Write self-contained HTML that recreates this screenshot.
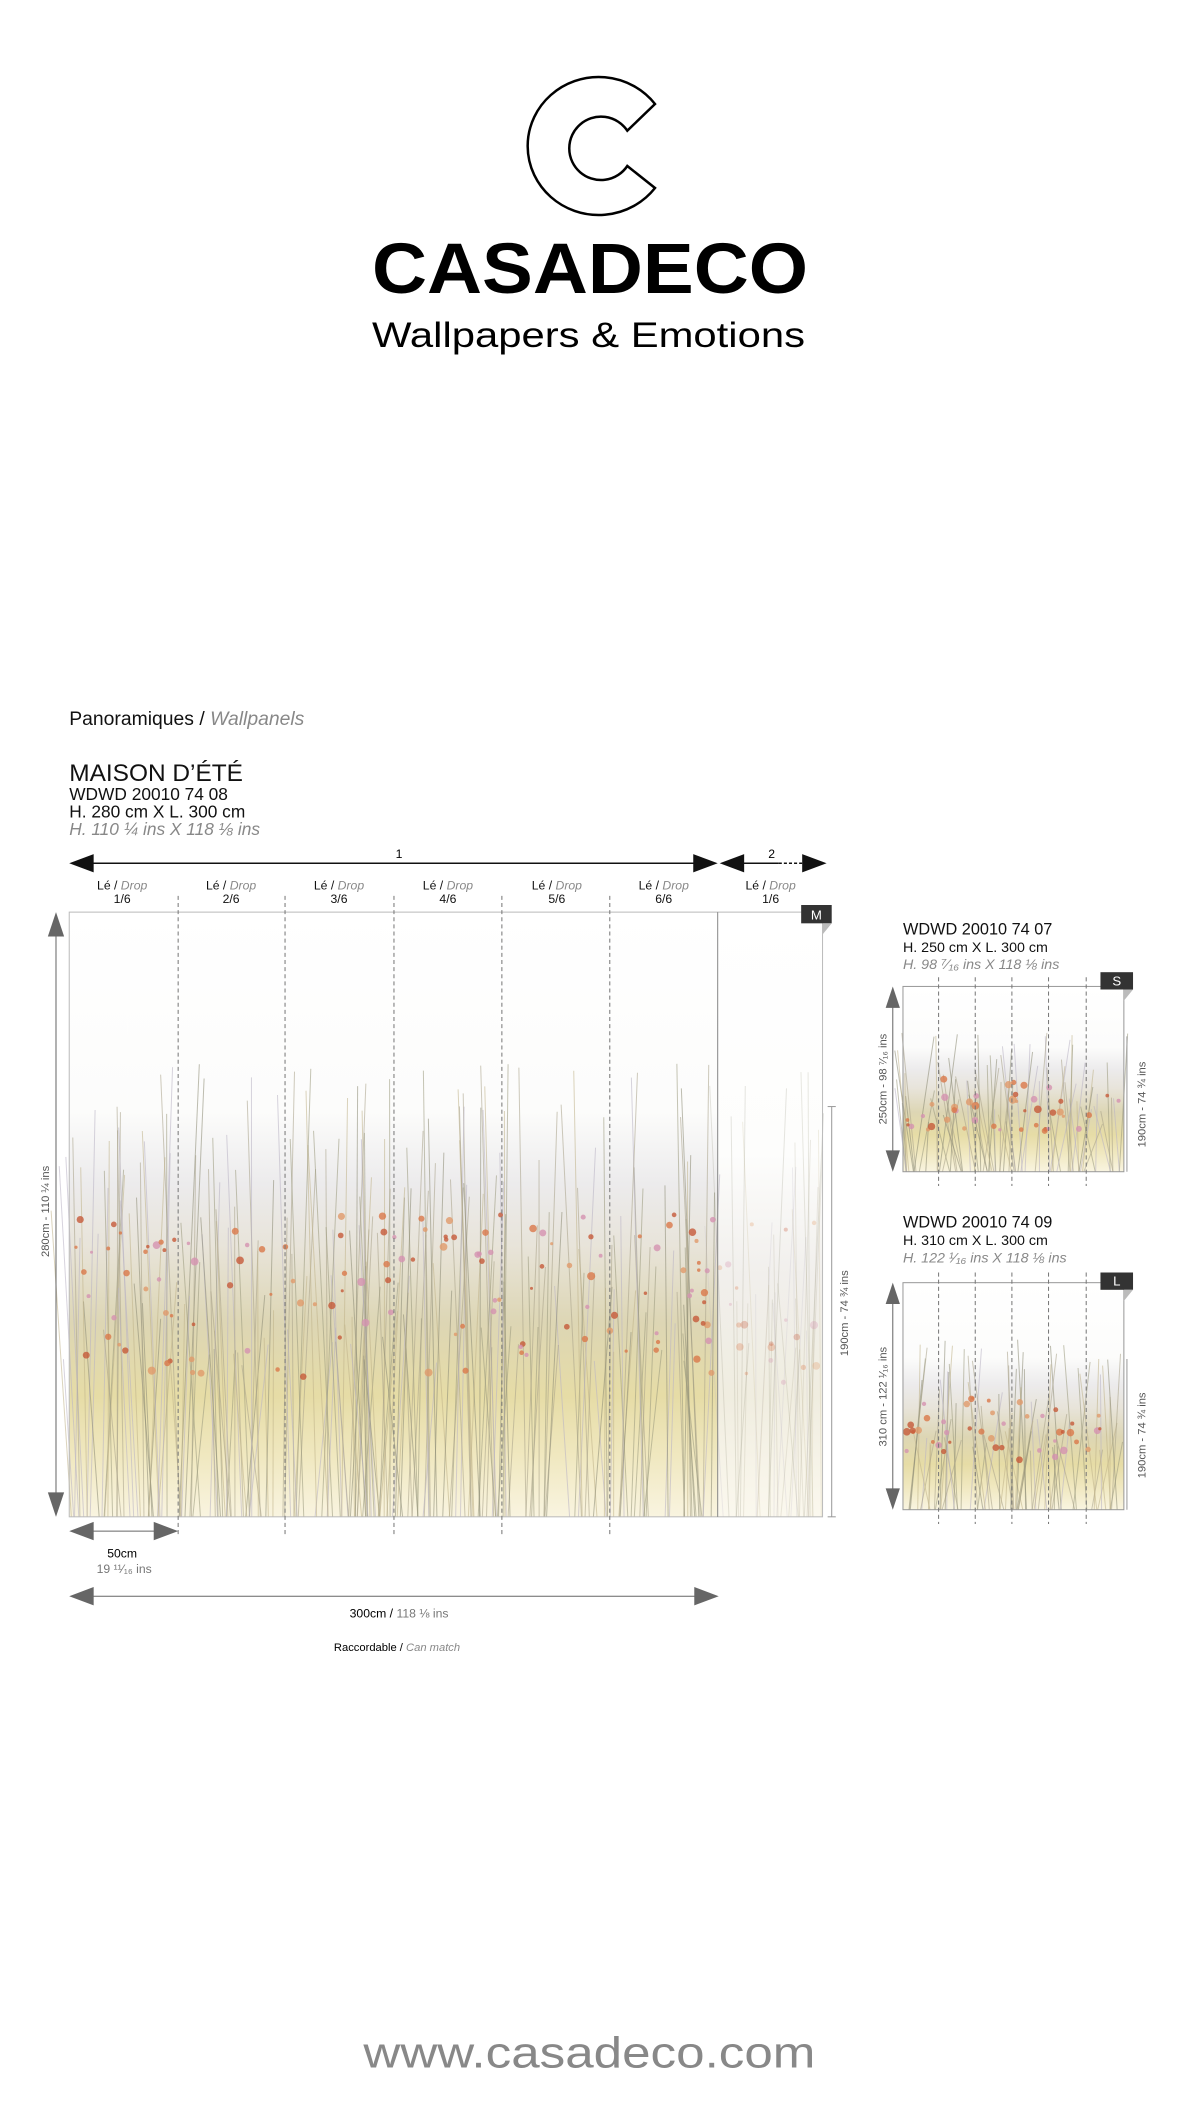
<!DOCTYPE html>
<html><head><meta charset="utf-8">
<style>
body{margin:0;background:#fff;}
#p{position:relative;width:1181px;height:2126px;overflow:hidden;font-family:"Liberation Sans",sans-serif;color:#111;}
#s{position:absolute;left:0;top:0;width:1181px;height:2126px;transform:scale(1.018);transform-origin:0 0;}
.a{position:absolute;white-space:nowrap;}
.g{color:#888;font-style:italic;}
.lbl{position:absolute;font-size:12px;text-align:center;width:80px;line-height:13px;}
</style></head><body><div id="p">
<svg class="a" style="left:0;top:0" width="1181" height="400">
<path d="M655,104 L627.3,130.7 A31.7,31.7 0 1 0 627.3,166 L655,188 A71,69 0 1 1 655,104 Z" fill="none" stroke="#000" stroke-width="2.5" stroke-linejoin="miter"/>
<text x="372" y="293" font-family="Liberation Sans" font-weight="bold" font-size="71" textLength="436" lengthAdjust="spacingAndGlyphs">CASADECO</text>
<text x="372" y="347" font-family="Liberation Sans" font-size="35" textLength="433" lengthAdjust="spacingAndGlyphs">Wallpapers &amp; Emotions</text>
</svg>
<div id="s">
<div class="a" style="left:68px;top:696px;font-size:19px">Panoramiques / <span class="g">Wallpanels</span></div>
<div class="a" style="left:68px;top:746px;font-size:24px">MAISON D’ÉTÉ</div>
<div class="a" style="left:68px;top:772px;font-size:17px;line-height:17px">WDWD 20010 74 08<br>H. 280 cm X L. 300 cm<br><span class="g">H. 110 ¼ ins X 118 ⅛ ins</span></div>

<svg class="a" style="left:0;top:0" width="1181" height="2126">
<defs>
<linearGradient id="mg" x1="0" y1="0" x2="0" y2="1">
<stop offset="0" stop-color="#fff"/><stop offset="0.33" stop-color="#fcfcfb"/><stop offset="0.45" stop-color="#ecebec"/><stop offset="0.55" stop-color="#e8e4da"/><stop offset="0.68" stop-color="#ddd6b4"/><stop offset="0.8" stop-color="#e6dca6"/><stop offset="0.9" stop-color="#f0e8c0"/><stop offset="1" stop-color="#f9f4e0"/></linearGradient>
<linearGradient id="gg" x1="0" y1="0" x2="0" y2="1">
<stop offset="0" stop-color="#fff"/><stop offset="0.4" stop-color="#fdfdfc"/><stop offset="0.6" stop-color="#f1efec"/><stop offset="0.8" stop-color="#f0ede0"/><stop offset="1" stop-color="#fbf8ee"/></linearGradient>
</defs>
<rect x="68" y="896" width="637" height="594" fill="url(#mg)"/>
<rect x="705" y="896" width="103" height="594" fill="url(#gg)"/>
<rect x="887" y="969" width="217" height="182" fill="url(#mg)"/>
<rect x="887" y="1260" width="217" height="223" fill="url(#mg)"/>
<g id="grass"></g>
<g stroke="#999" fill="none">
<rect x="68" y="896" width="740" height="594" stroke="#bbb"/>
<line x1="705" y1="896" x2="705" y2="1490" stroke="#888"/>
<rect x="887" y="969" width="217" height="182"/>
<rect x="887" y="1260" width="217" height="223"/>
</g>
<g stroke="#777" stroke-dasharray="4,3">
<line x1="175" y1="880" x2="175" y2="1510"/><line x1="280" y1="880" x2="280" y2="1510"/><line x1="387" y1="880" x2="387" y2="1510"/><line x1="493" y1="880" x2="493" y2="1510"/><line x1="599" y1="880" x2="599" y2="1510"/>
<line x1="922" y1="960" x2="922" y2="1165"/><line x1="958" y1="960" x2="958" y2="1165"/><line x1="994" y1="960" x2="994" y2="1165"/><line x1="1030" y1="960" x2="1030" y2="1165"/><line x1="1067" y1="960" x2="1067" y2="1165"/>
<line x1="922" y1="1250" x2="922" y2="1497"/><line x1="958" y1="1250" x2="958" y2="1497"/><line x1="994" y1="1250" x2="994" y2="1497"/><line x1="1030" y1="1250" x2="1030" y2="1497"/><line x1="1067" y1="1250" x2="1067" y2="1497"/>
</g>
<line x1="80" y1="848" x2="695" y2="848" stroke="#111" stroke-width="1.5"/>
<polygon points="68,848 92,839 92,857" fill="#111"/><polygon points="705,848 681,839 681,857" fill="#111"/>
<polygon points="707,848 731,839 731,857" fill="#111"/><polygon points="812,848 788,839 788,857" fill="#111"/>
<line x1="730" y1="848" x2="765" y2="848" stroke="#111" stroke-width="1.5"/>
<line x1="765" y1="848" x2="790" y2="848" stroke="#111" stroke-width="1.5" stroke-dasharray="3,2"/>
<text x="392" y="843" font-size="12" text-anchor="middle">1</text>
<text x="758" y="843" font-size="12" text-anchor="middle">2</text>
<rect x="787" y="889" width="30" height="18" fill="#333"/><text x="802" y="903" fill="#fff" font-size="13" text-anchor="middle">M</text><polygon points="808,907 817,907 808,918" fill="#bbb"/>
<rect x="1081" y="955" width="32" height="17" fill="#333"/><text x="1097" y="968" fill="#fff" font-size="13" text-anchor="middle">S</text><polygon points="1104,972 1113,972 1104,983" fill="#bbb"/>
<rect x="1081" y="1250" width="32" height="17" fill="#333"/><text x="1097" y="1263" fill="#fff" font-size="13" text-anchor="middle">L</text><polygon points="1104,1267 1113,1267 1104,1278" fill="#bbb"/>
<g fill="#666" stroke="#666">
<line x1="55" y1="900" x2="55" y2="1486"/><polygon points="55,896 47,920 63,920" stroke="none"/><polygon points="55,1490 47,1466 63,1466" stroke="none"/>
<line x1="877" y1="972" x2="877" y2="1148"/><polygon points="877,969 870,990 884,990" stroke="none"/><polygon points="877,1151 870,1130 884,1130" stroke="none"/>
<line x1="877" y1="1263" x2="877" y2="1480"/><polygon points="877,1260 870,1281 884,1281" stroke="none"/><polygon points="877,1483 870,1462 884,1462" stroke="none"/>
<line x1="817" y1="1087" x2="817" y2="1490" stroke="#999"/><line x1="813" y1="1087" x2="821" y2="1087" stroke="#999"/><line x1="813" y1="1490" x2="821" y2="1490" stroke="#999"/>
<line x1="1107" y1="1018" x2="1107" y2="1151" stroke="#999"/>
<line x1="1107" y1="1335" x2="1107" y2="1483" stroke="#999"/>
<line x1="72" y1="1504" x2="171" y2="1504"/><polygon points="68,1504 92,1495 92,1513" stroke="none"/><polygon points="175,1504 151,1495 151,1513" stroke="none"/>
<line x1="72" y1="1568" x2="702" y2="1568"/><polygon points="68,1568 92,1559 92,1577" stroke="none"/><polygon points="706,1568 682,1559 682,1577" stroke="none"/>
</g>
<g font-size="11" fill="#555">
<text transform="translate(48,1190) rotate(-90)" text-anchor="middle">280cm - 110 ¼ ins</text>
<text transform="translate(833,1290) rotate(-90)" text-anchor="middle">190cm - 74 ¾ ins</text>
<text transform="translate(871,1060) rotate(-90)" text-anchor="middle">250cm - 98 ⁷⁄₁₆ ins</text>
<text transform="translate(1125,1085) rotate(-90)" text-anchor="middle">190cm - 74 ¾ ins</text>
<text transform="translate(871,1372) rotate(-90)" text-anchor="middle">310 cm - 122 ¹⁄₁₆ ins</text>
<text transform="translate(1125,1410) rotate(-90)" text-anchor="middle">190cm - 74 ¾ ins</text>
</g>
<text x="120" y="1530" font-size="12" text-anchor="middle">50cm</text>
<text x="122" y="1545" font-size="12" text-anchor="middle" fill="#777">19 ¹¹⁄₁₆ ins</text>
<text x="392" y="1589" font-size="12" text-anchor="middle">300cm / <tspan fill="#777">118 ⅛  ins</tspan></text>
<text x="390" y="1622" font-size="11" text-anchor="middle">Raccordable / <tspan fill="#888" font-style="italic">Can match</tspan></text>
<text x="579" y="2031" font-size="43" text-anchor="middle" fill="#888" textLength="444" lengthAdjust="spacingAndGlyphs">www.casadeco.com</text>
</svg>
<div class="lbl" style="left:80px;top:864px">Lé / <span class="g">Drop</span><br>1/6</div>
<div class="lbl" style="left:187px;top:864px">Lé / <span class="g">Drop</span><br>2/6</div>
<div class="lbl" style="left:293px;top:864px">Lé / <span class="g">Drop</span><br>3/6</div>
<div class="lbl" style="left:400px;top:864px">Lé / <span class="g">Drop</span><br>4/6</div>
<div class="lbl" style="left:507px;top:864px">Lé / <span class="g">Drop</span><br>5/6</div>
<div class="lbl" style="left:612px;top:864px">Lé / <span class="g">Drop</span><br>6/6</div>
<div class="lbl" style="left:717px;top:864px">Lé / <span class="g">Drop</span><br>1/6</div>
<div class="a" style="left:887px;top:906px;font-size:16px;line-height:16px">WDWD 20010 74 07<br><span style="font-size:14px">H. 250 cm X L. 300 cm</span><br><span class="g" style="font-size:14px">H. 98 ⁷⁄₁₆ ins X 118 ⅛ ins</span></div>
<div class="a" style="left:887px;top:1194px;font-size:16px;line-height:16px">WDWD 20010 74 09<br><span style="font-size:14px">H. 310 cm X L. 300 cm</span><br><span class="g" style="font-size:14px">H. 122 ¹⁄₁₆ ins X 118 ⅛ ins</span></div>
</div>
</div>
<script>
var g=document.getElementById('grass'),s=7,h='';
function r(){s=(s*9301+49297)%233280;return s/233280;}
function field(x0,w,y0,hh,op){
 for(var i=0;i<w*0.35;i++){var x=x0+r()*w,top=y0+hh*(0.25+r()*0.5),b=y0+hh;
  var c=['#a9a28a','#9b9a7e','#c0b38a','#b9b3c4','#8d8c76'][Math.floor(r()*5)];
  h+='<line x1="'+x.toFixed(1)+'" y1="'+b+'" x2="'+(x+(r()-0.5)*40).toFixed(1)+'" y2="'+top.toFixed(1)+'" stroke="'+c+'" stroke-width="1" opacity="'+(op*0.7)+'"/>';}
 for(var i=0;i<w*0.2;i++){var x=x0+r()*w,y=y0+hh*(0.5+r()*0.28);
  var c=['#d9784a','#c65a3a','#e09a6a','#d592b0'][Math.floor(r()*4)];
  h+='<circle cx="'+x.toFixed(1)+'" cy="'+y.toFixed(1)+'" r="'+(1.5+r()*2.5).toFixed(1)+'" fill="'+c+'" opacity="'+op+'"/>';}
}
field(70,634,896,594,0.8);field(707,100,896,594,0.3);field(889,213,969,182,0.8);field(889,213,1260,223,0.8);
g.innerHTML=h;
</script>
</body></html>
